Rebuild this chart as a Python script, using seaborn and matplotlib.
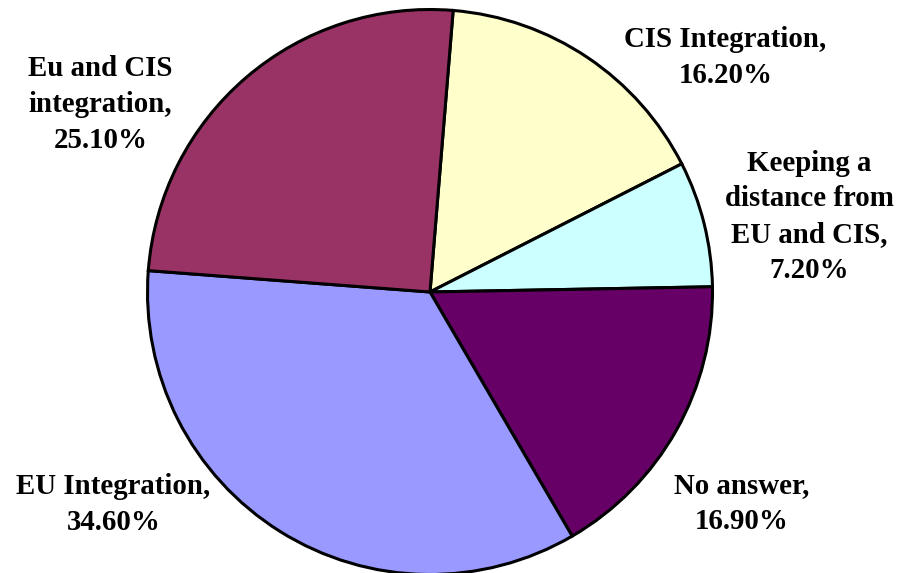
import matplotlib
matplotlib.use("Agg")
import matplotlib.pyplot as plt
import seaborn as sns

# data, in Excel order (clockwise from just right of 12 o'clock)
categories = ["CIS Integration", "Keeping a\ndistance from\nEU and CIS", "No answer",
              "EU Integration", "Eu and CIS\nintegration"]
shares = [16.2, 7.2, 16.9, 34.6, 25.1]
colors = ["#FFFFCC", "#CCFFFF", "#660066", "#9999FF", "#993366"]

# label anchor points (units of the pie radius) - styling only
label_xy = [(1.046, 0.830), (1.344, 0.266), (1.103, -0.748), (-1.121, -0.752), (-1.167, 0.663)]

sns.set_style("white")
plt.rcParams["font.family"] = ["Liberation Serif", "DejaVu Serif"]

fig = plt.figure(figsize=(8.99, 5.73), dpi=100)
cx, cy, r = 430 / 899, 281 / 573, 282.5
ax = fig.add_axes([cx - r / 899, cy - r / 573, 2 * r / 899, 2 * r / 573])

# start slightly right of the top, go clockwise
ax.pie(shares, colors=colors, startangle=90 - 4.7, counterclock=False,
       wedgeprops=dict(edgecolor="black", linewidth=2.2), radius=1)
ax.set_xlim(-1, 1)
ax.set_ylim(-1, 1)
ax.set_aspect("equal")
ax.axis("off")

for cat, val, (x, y) in zip(categories, shares, label_xy):
    txt = f"{cat},\n{val:.2f}%"
    ax.text(x, y, txt, ha="center", va="center", fontsize=20.8, fontweight="bold",
            color="black", linespacing=1.42, clip_on=False)

fig.savefig("out.png", dpi=100)
